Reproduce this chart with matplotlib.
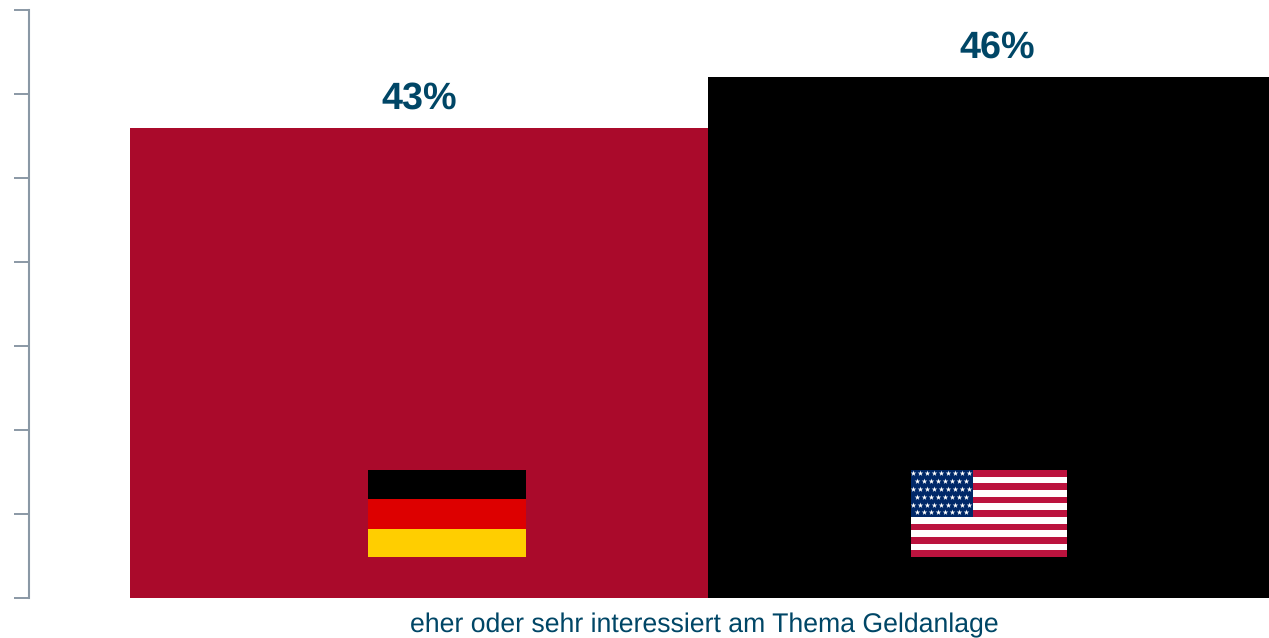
import numpy as np
import matplotlib
matplotlib.use('Agg')
import matplotlib.pyplot as plt

# Share of respondents interested in the topic, in percent
countries = ['Deutschland', 'USA']
shares = [43, 46]
bar_colors = ['#AA0A2B', '#000000']
yticks = [15, 20, 25, 30, 35, 40, 45, 50]
xlabel = 'eher oder sehr interessiert am Thema Geldanlage'

plt.rcParams['font.family'] = ['Liberation Sans', 'DejaVu Sans']
plt.rcParams['text.hinting'] = 'none'

W, H = 1269, 638
TEXT = '#004666'
AXIS = '#8A98A5'


def px_axes(fig, x0, y0, x1, y1):
    """Axes placed by pixel box, y measured from the top."""
    ax = fig.add_axes([x0/W, 1 - y1/H, (x1 - x0)/W, (y1 - y0)/H])
    ax.axis('off')
    return ax


fig = plt.figure(figsize=(W/100, H/100), dpi=100)
ax = fig.add_axes([29/W, 1 - 598/H, (W - 29)/W, 588/H])

xpos = np.arange(len(shares))
ax.bar(xpos, shares, width=1.0, color=bar_colors, lw=0)
ax.set_xlim(-390/578, 850/578)
ax.set_ylim(yticks[0], yticks[-1])

for x, v in zip(xpos, shares):
    ax.annotate(f'{v}%', (x, v), xytext=(0, 14), textcoords='offset points',
                ha='center', va='baseline', fontsize=27.2, fontweight='bold',
                color=TEXT)

for side in ('top', 'right', 'bottom'):
    ax.spines[side].set_visible(False)
ax.spines['left'].set_color(AXIS)
ax.spines['left'].set_linewidth(1.5)
ax.set_xticks([])
ax.set_yticks(yticks)
ax.set_yticklabels([])
ax.tick_params(axis='y', length=10.5, width=1.4, color=AXIS)

fig.text(704/W, 1 - 625/H, xlabel, ha='center', va='center', fontsize=19.16,
         color=TEXT)

# German flag, bottom stripe slightly cut
de = px_axes(fig, 368, 470, 525.6, 557)
de.imshow(np.array([[[0, 0, 0]], [[221, 0, 0]], [[255, 206, 0]]], dtype=np.uint8),
          aspect='auto', interpolation='nearest', extent=(0, 1, 3, 0))
de.set_ylim(2.95, 0)

# US flag: 13 stripes, canton with staggered star rows
us = px_axes(fig, 911, 470, 1067, 557)
stripes = np.array([[[187, 19, 62]] if i % 2 == 0 else [[255, 255, 255]]
                    for i in range(13)], dtype=np.uint8)
us.imshow(stripes, aspect='auto', interpolation='nearest', extent=(0, 156, 87, 0))
us.fill_between([0, 62], 0, 46.7, color='#002868', lw=0)
for row in range(6):
    n = 9 if row % 2 == 0 else 8
    xs = 2.3 + 7 * np.arange(n) + (0 if row % 2 == 0 else 3.5)
    ys = np.full(n, 3.4 + 7.8 * row)
    us.scatter(xs, ys, s=18, marker='*', color='white', lw=0)
us.set_xlim(0, 156)
us.set_ylim(87, 0)

fig.savefig('out.png', dpi=100)
